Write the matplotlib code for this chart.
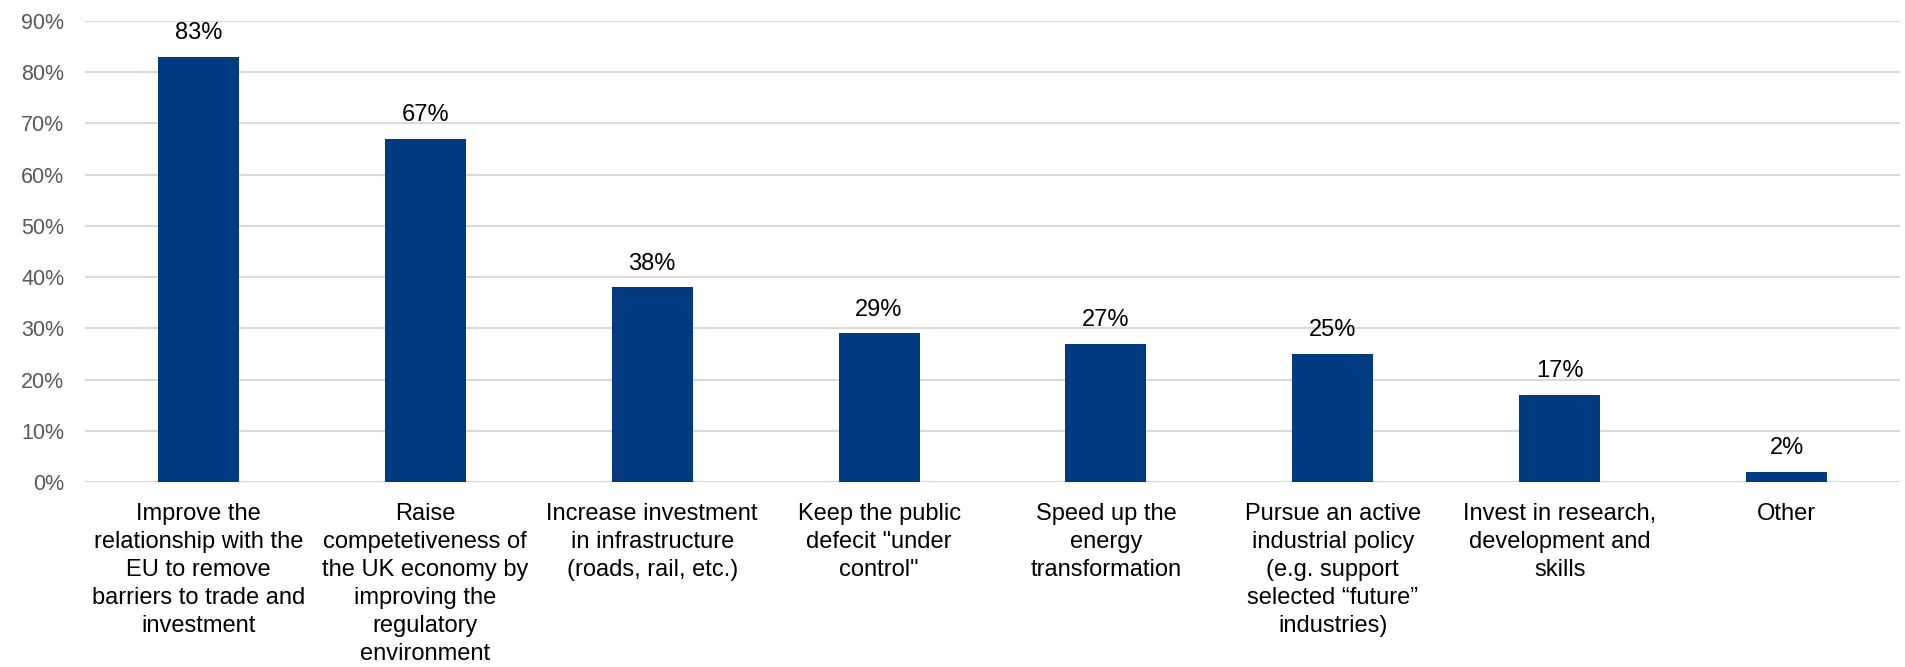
import matplotlib
matplotlib.use('Agg')
import matplotlib.pyplot as plt
from matplotlib.ticker import PercentFormatter

plt.rcParams['font.family'] = ['Liberation Sans', 'DejaVu Sans']

categories = [
    'Improve the\nrelationship with the\nEU to remove\nbarriers to trade and\ninvestment',
    'Raise\ncompetetiveness of\nthe UK economy by\nimproving the\nregulatory\nenvironment',
    'Increase investment\nin infrastructure\n(roads, rail, etc.)',
    'Keep the public\ndefecit "under\ncontrol"',
    'Speed up the\nenergy\ntransformation',
    'Pursue an active\nindustrial policy\n(e.g. support\nselected \u201cfuture\u201d\nindustries)',
    'Invest in research,\ndevelopment and\nskills',
    'Other',
]
shares = [83, 67, 38, 29, 27, 25, 17, 2]
y_ticks = [0, 10, 20, 30, 40, 50, 60, 70, 80, 90]

bar_color = '#003A80'
grid_color = '#D9D9D9'

fig = plt.figure(figsize=(19.06, 6.67), dpi=100)
ax = fig.add_axes([85 / 1906, 1 - 482 / 667, 1815 / 1906, 461 / 667])

x = range(len(categories))
bars = ax.bar(x, shares, width=0.357, color=bar_color, zorder=3)

for rect, v in zip(bars, shares):
    ax.annotate(f'{v}%', (rect.get_x() + rect.get_width() / 2, v),
                xytext=(0, 9), textcoords='offset points',
                ha='center', va='bottom', fontsize=17, color='black')

ax.set_xlim(-0.5, len(categories) - 0.5)
ax.set_ylim(0, 90)
ax.set_yticks(y_ticks)
ax.yaxis.set_major_formatter(PercentFormatter(decimals=0))
ax.set_xticks(list(x))
ax.set_xticklabels(categories, fontsize=17, linespacing=1.36, color='black')

ax.tick_params(axis='y', length=0, pad=15, labelsize=15.5, labelcolor='#595959')
ax.tick_params(axis='x', length=0, pad=15)
ax.grid(axis='y', color=grid_color, linewidth=1.5, zorder=0)
for s in ax.spines.values():
    s.set_visible(False)

fig.savefig('out.png', dpi=100)
